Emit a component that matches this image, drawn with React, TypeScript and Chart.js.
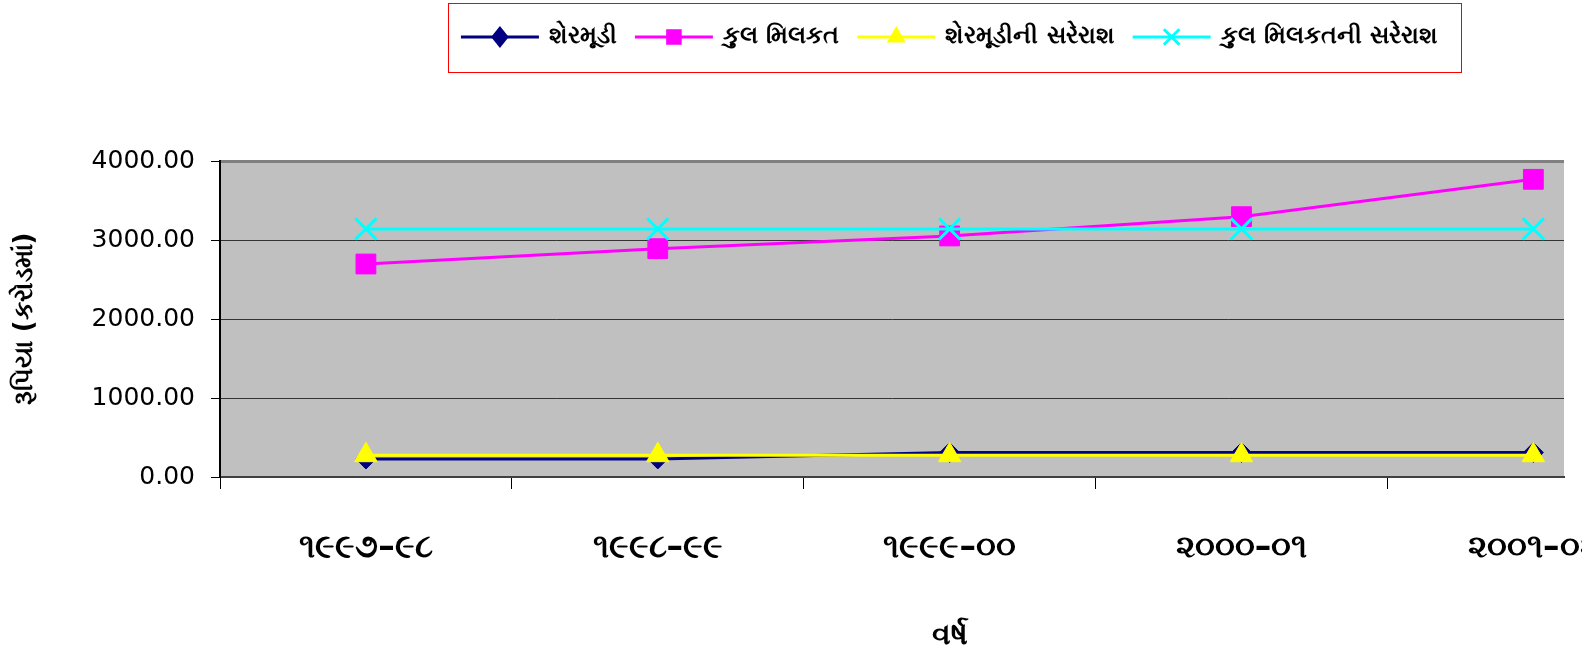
import React, { useEffect, useRef } from 'react';
import { Chart, registerables } from 'chart.js';

Chart.register(...registerables);

// ---- data ----
const categories = ['૧૯૯૭–૯૮', '૧૯૯૮–૯૯', '૧૯૯૯–૦૦', '૨૦૦૦–૦૧', '૨૦૦૧–૦૨'];
const shareCapital = [228, 229, 309, 310, 310];
const totalAssets = [2696, 2890, 3051, 3295, 3768];
const shareCapitalAvg = [276, 276, 276, 276, 276];
const totalAssetsAvg = [3140, 3140, 3140, 3140, 3140];
const seriesNames = ['શેરમૂડી', 'કુલ મિલકત', 'શેરમૂડીની સરેરાશ', 'કુલ મિલકતની સરેરાશ'];
const yTickValues = [0, 1000, 2000, 3000, 4000];
const yTitle = 'રૂપિયા (કરોડમાં)';
const xTitle = 'વર્ષ';

const FONT = '"DejaVu Sans", "Noto Sans", sans-serif';
const colors = ['#000080', '#FF00FF', '#FFFF00', '#00FFFF'];
const pointStyles = ['rectRot', 'rect', 'triangle', 'crossRot'];
const pointRadii = [10, 14, 13, 15];
const X_VISIBLE_MAX = 4.105;

const bgPlugin = {
  id: 'plotBg',
  beforeDraw(chart: any) {
    const { ctx, chartArea } = chart;
    ctx.save();
    ctx.fillStyle = '#C0C0C0';
    ctx.fillRect(chartArea.left, chartArea.top, chartArea.right - chartArea.left, chartArea.bottom - chartArea.top);
    ctx.restore();
  },
};

function drawMarker(ctx: CanvasRenderingContext2D, style: string, x: number, y: number, r: number, color: string) {
  ctx.save();
  ctx.fillStyle = color;
  ctx.strokeStyle = color;
  ctx.lineWidth = 3;
  ctx.beginPath();
  if (style === 'rectRot') {
    ctx.moveTo(x, y - r);
    ctx.lineTo(x + r * 0.8, y);
    ctx.lineTo(x, y + r);
    ctx.lineTo(x - r * 0.8, y);
    ctx.closePath();
    ctx.fill();
  } else if (style === 'rect') {
    const s = r * Math.SQRT1_2;
    ctx.rect(x - s, y - s, 2 * s, 2 * s);
    ctx.fill();
  } else if (style === 'triangle') {
    ctx.moveTo(x, y - r);
    ctx.lineTo(x + r * 0.866, y + r * 0.5);
    ctx.lineTo(x - r * 0.866, y + r * 0.5);
    ctx.closePath();
    ctx.fill();
  } else {
    const d = r * Math.SQRT1_2;
    ctx.moveTo(x - d, y - d);
    ctx.lineTo(x + d, y + d);
    ctx.moveTo(x + d, y - d);
    ctx.lineTo(x - d, y + d);
    ctx.stroke();
  }
  ctx.restore();
}

const legendPlugin = {
  id: 'boxLegend',
  afterDraw(chart: any) {
    const ctx: CanvasRenderingContext2D = chart.ctx;
    const cx = chart.scales.x.getPixelForValue((categories.length - 1) / 2);
    const lineLen = 78;
    const gapText = 10;
    const gapItem = 18;
    const cy = 37;
    ctx.save();
    ctx.font = `bold 24px ${FONT}`;
    const widths = seriesNames.map((n) => ctx.measureText(n).width);
    const total = widths.reduce((a, w) => a + lineLen + gapText + w, 0) + gapItem * (widths.length - 1);
    let x = cx - total / 2;
    ctx.strokeStyle = '#FF0000';
    ctx.lineWidth = 1;
    ctx.strokeRect(Math.round(x - 13) + 0.5, 3.5, Math.round(total + 36), 69);
    seriesNames.forEach((name, i) => {
      ctx.strokeStyle = colors[i];
      ctx.lineWidth = 3;
      ctx.beginPath();
      ctx.moveTo(x, cy);
      ctx.lineTo(x + lineLen, cy);
      ctx.stroke();
      drawMarker(ctx, pointStyles[i], x + lineLen / 2, cy, 11, colors[i]);
      ctx.fillStyle = '#000';
      ctx.textBaseline = 'middle';
      ctx.textAlign = 'left';
      ctx.fillText(name, x + lineLen + gapText, cy);
      x += lineLen + gapText + widths[i] + gapItem;
    });
    ctx.restore();
  },
};

const xTitlePlugin = {
  id: 'xTitle',
  afterDraw(chart: any) {
    const ctx: CanvasRenderingContext2D = chart.ctx;
    const cx = chart.scales.x.getPixelForValue((categories.length - 1) / 2);
    ctx.save();
    ctx.font = `bold 30px ${FONT}`;
    ctx.fillStyle = '#000';
    ctx.textAlign = 'center';
    ctx.textBaseline = 'middle';
    ctx.fillText(xTitle, cx, 636);
    ctx.restore();
  },
};

export default function App() {
  const ref = useRef<HTMLCanvasElement>(null);
  useEffect(() => {
    document.body.style.margin = '0';
    document.body.style.overflow = 'hidden';
    const canvas = ref.current!;
    const seriesValues = [shareCapital, totalAssets, shareCapitalAvg, totalAssetsAvg];
    const chart = new Chart(canvas, {
      type: 'line',
      data: {
        datasets: seriesValues.map((vals, i) => ({
          label: seriesNames[i],
          data: vals.map((v, j) => ({ x: j, y: v })),
          borderColor: colors[i],
          backgroundColor: colors[i],
          borderWidth: 3,
          pointStyle: pointStyles[i] as any,
          pointRadius: pointRadii[i],
          pointBorderWidth: i === 3 ? 3 : 1,
          pointBackgroundColor: colors[i],
          pointBorderColor: colors[i],
          tension: 0,
          order: seriesValues.length - i,
        })),
      },
      options: {
        animation: false,
        responsive: false,
        devicePixelRatio: 1,
        layout: { padding: { top: 161, right: 15, left: 0, bottom: 0 } },
        plugins: { legend: { display: false }, tooltip: { enabled: false } },
        scales: {
          x: {
            type: 'linear',
            min: -0.5,
            max: X_VISIBLE_MAX,
            afterBuildTicks: (s: any) => {
              const t: any[] = [];
              categories.forEach((_, i) => {
                t.push({ value: i - 0.5 });
                t.push({ value: i });
              });
              s.ticks = t;
            },
            afterFit: (s: any) => {
              s.height = 183;
              s.paddingLeft = 0;
              s.paddingRight = 0;
            },
            ticks: {
              autoSkip: false,
              maxRotation: 0,
              minRotation: 0,
              padding: 40,
              color: '#000',
              font: { family: FONT, size: 33, weight: 'bold' },
              callback: (v: any) => (Number.isInteger(v) ? categories[v] : ''),
            },
            grid: {
              drawOnChartArea: false,
              tickLength: 12,
              tickWidth: 1,
              tickColor: (c: any) => (c.tick && !Number.isInteger(c.tick.value) ? '#000' : 'rgba(0,0,0,0)'),
            },
            border: { color: '#404040', width: 2 },
          },
          y: {
            min: 0,
            max: 4000,
            afterBuildTicks: (s: any) => {
              s.ticks = yTickValues.map((v) => ({ value: v }));
            },
            afterFit: (s: any) => {
              s.width = 220;
              s.paddingTop = 0;
              s.paddingBottom = 0;
            },
            ticks: {
              padding: 16,
              color: '#000',
              font: { family: FONT, size: 25 },
              callback: (v: any) => Number(v).toFixed(2),
            },
            grid: {
              color: (c: any) => (c.tick && c.tick.value === 4000 ? '#808080' : '#333333'),
              lineWidth: (c: any) => (c.tick && c.tick.value === 4000 ? 3 : 1),
              tickLength: 9,
              tickColor: '#000',
              tickWidth: 1,
            },
            border: { color: '#000', width: 2 },
            title: {
              display: true,
              text: yTitle,
              color: '#000',
              font: { family: FONT, size: 26, weight: 'bold' },
              padding: { top: 10, bottom: 0 },
            },
          },
        },
      },
      plugins: [bgPlugin, legendPlugin, xTitlePlugin],
    } as any);
    return () => chart.destroy();
  }, []);
  return <canvas ref={ref} width={1582} height={660} style={{ display: 'block' }} />;
}
